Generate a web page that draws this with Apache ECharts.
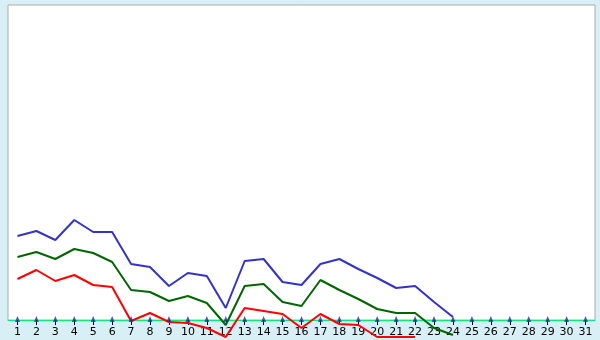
<!DOCTYPE html>
<html><head><meta charset="utf-8">
<script src="https://cdn.jsdelivr.net/npm/echarts@6/dist/echarts.min.js"></script>
<style>html,body{margin:0;padding:0;background:#d9eff6;}#c{width:600px;height:340px;}</style>
</head><body><div id="c"></div>
<script>
var categories = ['1','2','3','4','5','6','7','8','9','10','11','12','13','14','15','16','17','18','19','20','21','22','23','24','25','26','27','28','29','30','31'];
var blueValues = [84, 89, 80, 100, 88, 88, 56, 53, 34, 47, 44, 12, 59, 61, 38, 35, 56, 61, 51, 42, 32, 34, 18, 3];
var greenValues = [63, 68, 61, 71, 67, 58, 30, 28, 19, 24, 17, -5, 34, 36, 18, 14, 40, 30, 21, 11, 7, 7, -8, -15];
var redValues = [41, 50, 39, 45, 35, 33, -1, 7, -2, -3, -8, -17, 12, 9, 6, -8, 6, -4, -5, -17, -17, -17];
var markerValues = categories.map(function(){ return 0; });

var chart = echarts.init(document.getElementById('c'), null, {renderer:'canvas'});
function lineSeries(data, color){
  return {type:'line', data:data, symbol:'none', clip:false, animation:false,
    lineStyle:{color:color, width:2}, itemStyle:{color:color}};
}
chart.setOption({
  backgroundColor:'#d9eff6',
  animation:false,
  grid:{left:8, right:5, top:5, bottom:20, show:true, backgroundColor:'#ffffff', borderColor:'#aaaaaa', borderWidth:1},
  xAxis:{type:'category', data:categories, boundaryGap:true,
    axisLine:{lineStyle:{color:'#00ee77', width:1}},
    axisTick:{show:true, alignWithLabel:true, length:5, lineStyle:{color:'#000033'}},
    axisLabel:{interval:0, color:'#000000', fontFamily:'DejaVu Sans', fontSize:11, margin:7},
    splitLine:{show:false}},
  yAxis:{type:'value', min:0, max:315, show:false, splitLine:{show:false}},
  series:[
    lineSeries(blueValues, '#3333cc'),
    lineSeries(greenValues, '#006600'),
    lineSeries(redValues, '#ff0000'),
    {type:'scatter', data:markerValues, symbol:'triangle', symbolSize:[5,6], symbolOffset:[0,-1],
     itemStyle:{color:'#2a2aa8'}, z:5, silent:true}
  ]
});
</script></body></html>
